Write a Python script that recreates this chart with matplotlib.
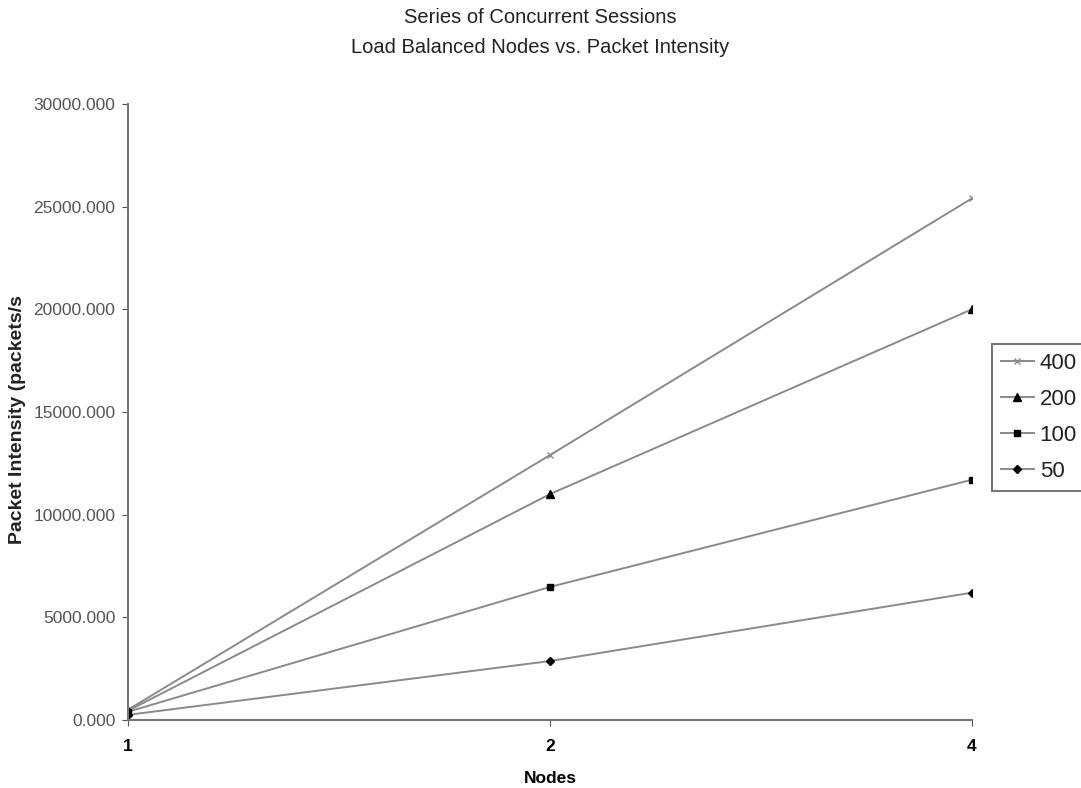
import matplotlib
matplotlib.use("Agg")
import matplotlib.pyplot as plt
from matplotlib.ticker import FormatStrFormatter

# ----
# Data
# ----
nodes = ["1", "2", "4"]
sessions_400 = [500, 12900, 25400]
sessions_200 = [450, 11000, 20000]
sessions_100 = [400, 6480, 11700]
sessions_50 = [250, 2870, 6200]

plt.rcParams["font.family"] = ["Liberation Sans", "DejaVu Sans"]

fig = plt.figure(figsize=(10.81, 7.88), dpi=100)
ax = fig.add_axes([0.1184, 0.0863, 0.7806, 0.7817])

pos = range(len(nodes))
line_color = "#8a8a8a"
series = [
    ("400", sessions_400, "x", 5, line_color),
    ("200", sessions_200, "^", 6, "black"),
    ("100", sessions_100, "s", 5, "black"),
    ("50", sessions_50, "D", 4.5, "black"),
]
for label, vals, marker, ms, mcolor in series:
    ax.plot(pos, vals, color=line_color, linewidth=1.4, marker=marker,
            markersize=ms, markerfacecolor=mcolor, markeredgecolor=mcolor,
            markeredgewidth=1.0, label=label)

ax.set_xlim(0, len(nodes) - 1)
ax.set_ylim(0, 30000)
ax.set_xticks(list(pos))
ax.set_xticklabels(nodes, fontsize=12.5, fontweight="bold")
ax.set_yticks(range(0, 30001, 5000))
ax.yaxis.set_major_formatter(FormatStrFormatter("%.3f"))
ax.tick_params(axis="y", labelsize=12.5, colors="#555555", direction="out",
               length=4, pad=5, labelcolor="#555555")
ax.tick_params(axis="x", direction="out", length=4, colors="#555555",
               labelcolor="black", pad=10)

for side in ["top", "right"]:
    ax.spines[side].set_visible(False)
for side in ["left", "bottom"]:
    ax.spines[side].set_color("#777777")
    ax.spines[side].set_linewidth(1.5)

ax.set_xlabel("Nodes", fontsize=12.5, fontweight="bold")
ax.xaxis.set_label_coords(0.5, -0.082)
ax.set_ylabel("Packet Intensity (packets/s", fontsize=14, fontweight="bold",
              color="#222222")
ax.yaxis.set_label_coords(-0.121, 0.487)

# two-line title
fig.text(0.5, 0.978, "Series of Concurrent Sessions", ha="center",
         va="center", fontsize=14.5, color="#222222")
fig.text(0.5, 0.940, "Load Balanced Nodes vs. Packet Intensity",
         ha="center", va="center", fontsize=14.5, color="#222222")

leg = ax.legend(loc="upper left", bbox_to_anchor=(1.0237, 0.6104),
                fontsize=16, frameon=True, fancybox=False,
                handlelength=1.5, handletextpad=0.25, borderpad=0.4,
                labelspacing=0.68, borderaxespad=0, markerscale=0.85)
leg.get_frame().set_edgecolor("#555555")
leg.get_frame().set_linewidth(1.5)
for t in leg.get_texts():
    t.set_color("#222222")

fig.savefig("out.png", dpi=100)
